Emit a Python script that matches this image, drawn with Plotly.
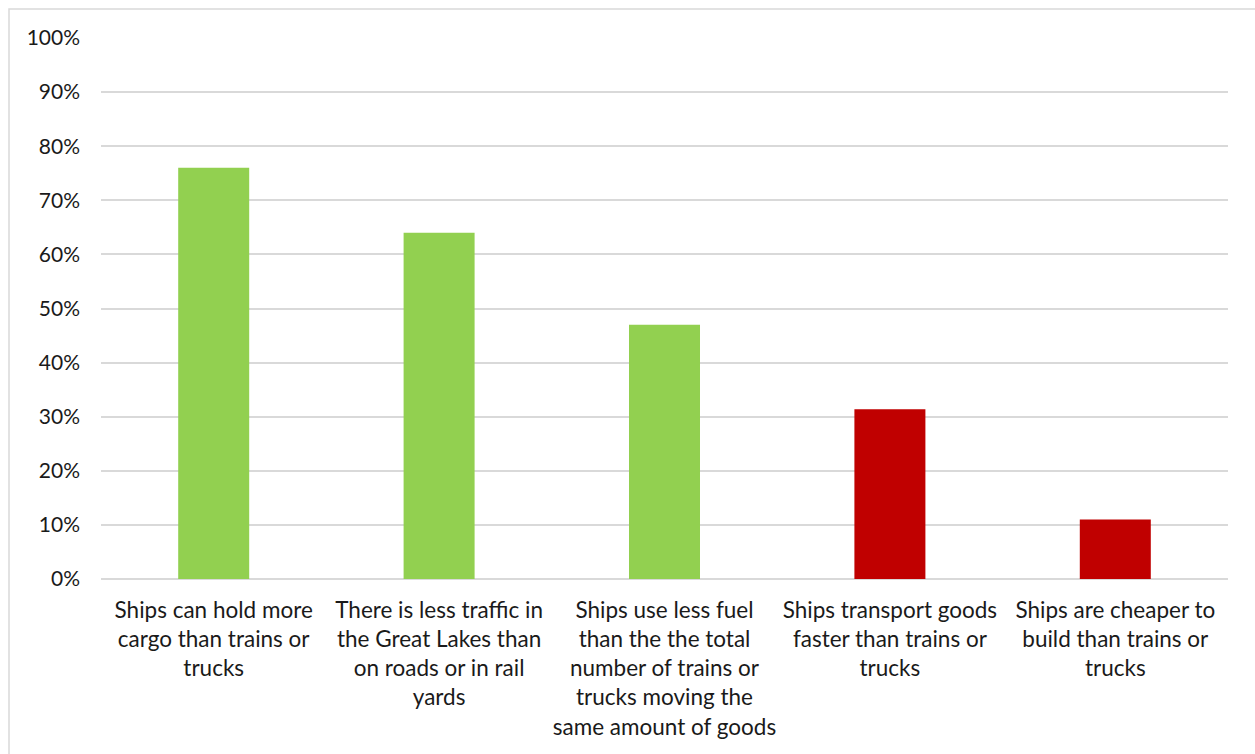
import plotly.graph_objects as go

# Survey responses: share of respondents agreeing with each statement
statements = [
    "Ships can hold more<br>cargo than trains or<br>trucks",
    "There is less traffic in<br>the Great Lakes than<br>on roads or in rail<br>yards",
    "Ships use less fuel<br>than the the total<br>number of trains or<br>trucks moving the<br>same amount of goods",
    "Ships transport goods<br>faster than trains or<br>trucks",
    "Ships are cheaper to<br>build than trains or<br>trucks",
]
shares = [0.76, 0.64, 0.47, 0.314, 0.11]
is_true = [True, True, True, False, False]

TRUE_COLOR = "#92D050"
FALSE_COLOR = "#C00000"
colors = [TRUE_COLOR if t else FALSE_COLOR for t in is_true]

W, H = 1255, 754
L, R, T, B = 101, 1228, 38, 579

fig = go.Figure(
    go.Bar(
        x=statements,
        y=shares,
        marker=dict(color=colors, line=dict(width=0)),
        hoverinfo="skip",
    )
)

font_family = "Lato, 'Open Sans', sans-serif"

fig.update_layout(
    width=W,
    height=H,
    margin=dict(l=L, r=W - R, t=T, b=H - B, autoexpand=False),
    paper_bgcolor="white",
    plot_bgcolor="white",
    bargap=0.685,
    showlegend=False,
    font=dict(family=font_family, color="#1a1a1a"),
    xaxis=dict(
        showgrid=False,
        showline=False,
        ticks="",
        tickangle=0,
        ticklabelstandoff=15,
        tickfont=dict(size=22.5, family=font_family, color="#1a1a1a"),
        automargin=False,
    ),
    yaxis=dict(
        range=[0, 1.0],
        dtick=0.1,
        tickformat=".0%",
        showgrid=True,
        gridcolor="#D9D9D9",
        gridwidth=1.5,
        zeroline=True,
        zerolinecolor="#D9D9D9",
        zerolinewidth=1.5,
        showline=False,
        ticks="",
        ticklabelstandoff=20,
        tickfont=dict(size=21, family=font_family, color="#1a1a1a"),
        automargin=False,
    ),
)

# Outer chart frame
pw, ph = R - L, B - T
fig.add_shape(
    type="rect",
    xref="paper",
    yref="paper",
    x0=(9 - L) / pw,
    x1=(W + 20 - L) / pw,
    y0=(B - (H + 20)) / ph,
    y1=(B - 9) / ph,
    line=dict(color="#D9D9D9", width=1.5),
    fillcolor="rgba(0,0,0,0)",
    layer="below",
)

fig.write_html("out.html")
